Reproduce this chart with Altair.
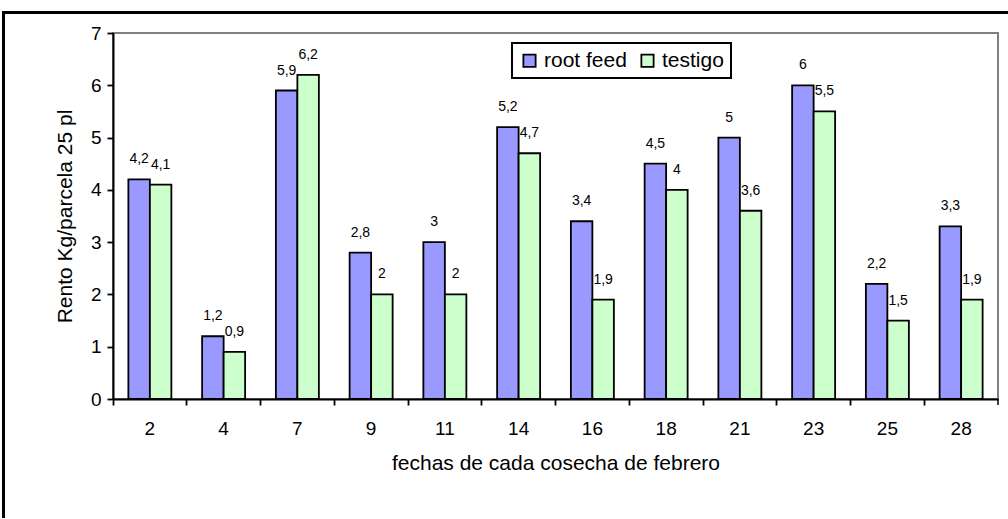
import altair as alt
import pandas as pd

dates = ["2", "4", "7", "9", "11", "14", "16", "18", "21", "23", "25", "28"]
root_feed = [4.2, 1.2, 5.9, 2.8, 3, 5.2, 3.4, 4.5, 5, 6, 2.2, 3.3]
testigo = [4.1, 0.9, 6.2, 2, 2, 4.7, 1.9, 4, 3.6, 5.5, 1.5, 1.9]
series = ["root feed", "testigo"]
colors = ["#9999FF", "#CCFFCC"]

rows = []
for d, r, t in zip(dates, root_feed, testigo):
    for s, v in ((series[0], r), (series[1], t)):
        rows.append({"fecha": d, "serie": s, "valor": v,
                     "label": f"{v:g}".replace(".", ",")})
df = pd.DataFrame(rows)

FONT = "Arial, 'Liberation Sans', sans-serif"
W, H = 885, 366

base = alt.Chart(df)

bars = base.mark_bar(stroke="black", strokeWidth=1.8).encode(
    x=alt.X("fecha:N", sort=dates,
            scale=alt.Scale(paddingInner=0, paddingOuter=0),
            axis=alt.Axis(title="fechas de cada cosecha de febrero", labelAngle=0,
                          bandPosition=0, tickSize=6, labelPadding=14,
                          titlePadding=14)),
    xOffset=alt.XOffset("serie:N", sort=series,
                        scale=alt.Scale(paddingInner=0, paddingOuter=0.715)),
    y=alt.Y("valor:Q", scale=alt.Scale(domain=[0, 7], nice=False),
            axis=alt.Axis(title="Rento Kg/parcela 25 pl", values=[0, 1, 2, 3, 4, 5, 6, 7],
                          format="d", tickSize=6, labelPadding=6, titlePadding=15,
                          grid=False)),
    color=alt.Color("serie:N", sort=series,
                    scale=alt.Scale(domain=series, range=colors),
                    legend=alt.Legend(title=None, orient="none", legendX=399, legendY=10,
                                      direction="horizontal", symbolType="square",
                                      symbolSize=150, symbolStrokeColor="black",
                                      symbolStrokeWidth=1.8, labelFontSize=21,
                                      labelFont=FONT, labelColor="black",
                                      strokeColor="black",
                                      padding=7, columnPadding=10, labelOffset=4,
                                      fillColor="white")),
)

labels = base.mark_text(font=FONT, fontSize=14, dy=-16, baseline="alphabetic",
                        color="black").encode(
    x=alt.X("fecha:N", sort=dates),
    xOffset=alt.XOffset("serie:N", sort=series),
    y="valor:Q",
    text="label:N",
)

one = alt.Data(values=[{}])

end_tick = alt.Chart(one).mark_rule(color="black", strokeWidth=1.5).encode(
    x=alt.value(W), y=alt.value(H), y2=alt.value(H + 6)
)

frame_top = alt.Chart(one).mark_rect(color="black").encode(
    x=alt.value(-111), x2=alt.value(W + 20), y=alt.value(-22), y2=alt.value(-19)
)
frame_left = alt.Chart(one).mark_rect(color="black").encode(
    x=alt.value(-111), x2=alt.value(-108), y=alt.value(-22), y2=alt.value(H + 140)
)

chart = alt.layer(frame_top, frame_left, bars, labels, end_tick).properties(
    width=W, height=H,
    autosize=alt.AutoSizeParams(type="none"),
    padding={"left": 113, "top": 33, "right": 10, "bottom": 119},
    background="white",
).configure_view(
    stroke="#808080", strokeWidth=2
).configure_axis(
    domainColor="black", domainWidth=2, tickColor="black", tickWidth=1.8,
    labelFont=FONT, labelFontSize=19, labelColor="black",
    titleFont=FONT, titleFontSize=21, titleFontWeight="normal", titleColor="black",
).configure_legend(
    strokeWidth=2
)

chart.save("out.html", embed_options={"renderer": "svg", "actions": False})
